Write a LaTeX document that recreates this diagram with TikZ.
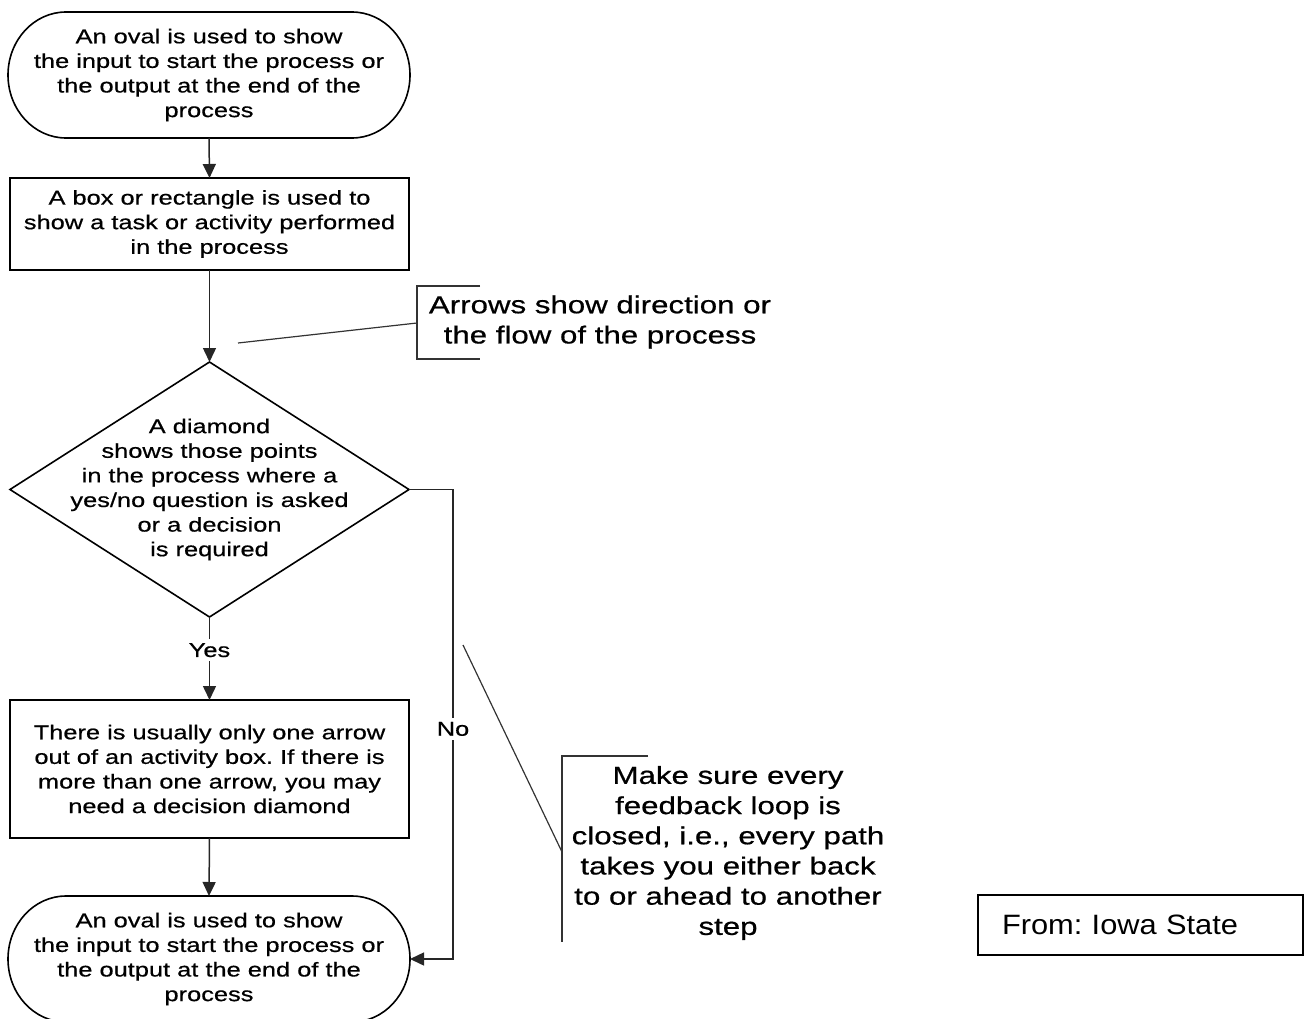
\documentclass[tikz,border=0pt]{standalone}
\usepackage{fontspec}
\setmainfont{Liberation Sans}
\newfontfamily\flowfont[FakeStretch=1.27,FakeBold=0.6]{Liberation Sans}
\newfontfamily\notefont[FakeStretch=1.1]{Liberation Sans}
\usetikzlibrary{arrows.meta}
\frenchspacing
\begin{document}
\frenchspacing
\begin{tikzpicture}[x=1pt,y=-1pt,
  every node/.style={inner sep=0pt, outer sep=0pt},
  txt/.style={font=\flowfont\frenchspacing\fontsize{20pt}{24.6pt}\selectfont, align=center},
  bigtxt/.style={font=\flowfont\frenchspacing\fontsize{24.6pt}{30.2pt}\selectfont, align=center},
  shapeline/.style={draw=black, line width=1.6pt},
  conn/.style={draw=black!85, line width=1.5pt},
  thinline/.style={draw=black!80, line width=1.2pt},
  arr/.style={conn, -{Triangle[length=14pt,width=13pt]}},
  lbl/.style={txt, fill=white, inner xsep=2pt, inner ysep=4pt}
]
\useasboundingbox (0,0) rectangle (1308,1019);

% top oval
\node[txt, minimum width=402pt, minimum height=126pt] (o1) at (209,75)
  {An oval is used to show\\the input to start the process or\\the output at the end of the\\process};
\draw[shapeline] ([xshift=58pt]o1.north west) -- ([xshift=-58pt]o1.north east)
  arc[start angle=90,end angle=-90,x radius=58pt,y radius=63pt]
  -- ([xshift=58pt]o1.south west)
  arc[start angle=270,end angle=90,x radius=58pt,y radius=63pt] -- cycle;

% box 1
\node[txt, shapeline, minimum width=399pt, minimum height=92pt] (b1) at (209.5,224)
  {A box or rectangle is used to\\show a task or activity performed\\in the process};

% diamond
\node[txt, minimum width=399pt, minimum height=255pt] (d) at (209.5,489.5)
  {A diamond\\shows those points\\in the process where a\\yes/no question is asked\\or a decision\\is required};
\draw[shapeline] (d.north) -- (d.east) -- (d.south) -- (d.west) -- cycle;

% box 2
\node[txt, shapeline, minimum width=399pt, minimum height=138pt] (b2) at (209.5,769)
  {There is usually only one arrow\\out of an activity box. If there is\\more than one arrow, you may\\need a decision diamond};

% bottom oval
\node[txt, minimum width=402pt, minimum height=126pt] (o2) at (209,959)
  {An oval is used to show\\the input to start the process or\\the output at the end of the\\process};
\draw[shapeline] ([xshift=58pt]o2.north west) -- ([xshift=-58pt]o2.north east)
  arc[start angle=90,end angle=-90,x radius=58pt,y radius=63pt]
  -- ([xshift=58pt]o2.south west)
  arc[start angle=270,end angle=90,x radius=58pt,y radius=63pt] -- cycle;

% flow connectors
\draw[arr] (o1.south) -- (b1.north);
\draw[arr] (b1.south) -- (d.north);
\draw[arr] (d.south) -- node[lbl, pos=0.4] (yes) {Yes} (b2.north);
\draw[arr] (b2.south) -- (o2.north);
\coordinate (nc1) at (453,489.5);
\coordinate (nc2) at (453,959);
\draw[arr] (d.east) -- (nc1) -- node[lbl, pos=0.51] (no) {No} (nc2) -- (o2.east);

% callout 1
\node[bigtxt] (c1) at (600,322) {Arrows show direction or\\the flow of the process};
\coordinate (c1a) at (480,286);
\coordinate (c1b) at (417,286);
\coordinate (c1c) at (417,359);
\coordinate (c1d) at (480,359);
\coordinate (c1m) at (417,323);
\coordinate (c1p) at (238,343);
\draw[thinline] (c1a) -- (c1b) -- (c1c) -- (c1d);
\draw[thinline] (c1p) -- (c1m);

% callout 2
\node[bigtxt] (c2) at (728,853) {Make sure every\\feedback loop is\\closed, i.e., every path\\takes you either back\\to or ahead to another\\step};
\coordinate (c2a) at (648,756);
\coordinate (c2b) at (562,756);
\coordinate (c2c) at (562,942);
\coordinate (c2m) at (562,852);
\coordinate (c2p) at (463,645);
\draw[thinline] (c2a) -- (c2b) -- (c2c);
\draw[thinline] (c2p) -- (c2m);

% source box
\node[draw=black, line width=1.5pt, anchor=west, minimum height=60pt, inner xsep=24pt,
  text width=277pt, align=left, font=\notefont\frenchspacing\fontsize{28pt}{32pt}\selectfont] (src) at (978,925)
  {From: Iowa State};
\end{tikzpicture}
\end{document}
